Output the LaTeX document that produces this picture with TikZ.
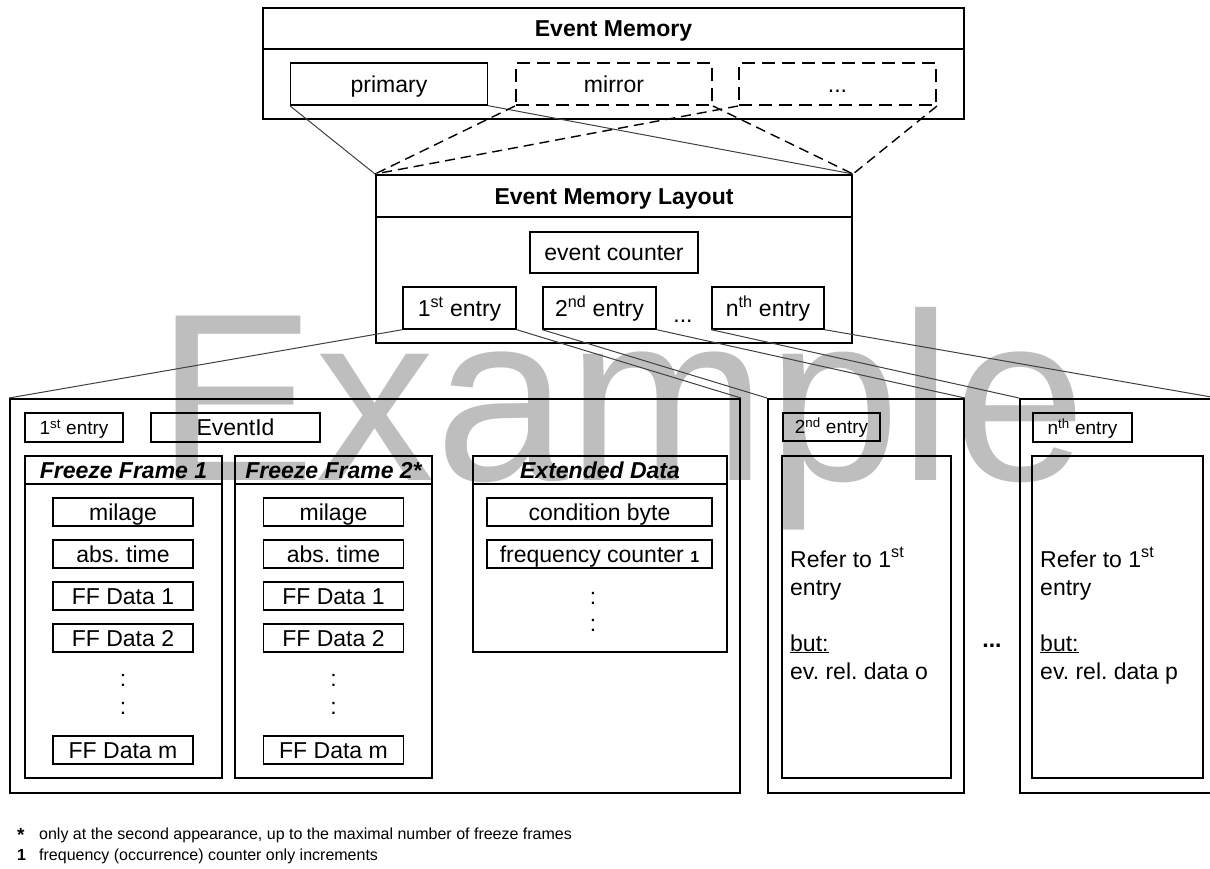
\documentclass[tikz,border=0pt]{standalone}
\usepackage{fontspec}
\setmainfont{Liberation Sans}
\frenchspacing
\definecolor{wmgray}{RGB}{190,190,190}
\tikzset{
  wmk/.style={anchor=base west, inner sep=0pt, text=wmgray, font=\fontsize{239}{239}\selectfont},
  cbox/.style={draw, line width=2pt, inner sep=0pt},
  ibox/.style={draw, line width=1.4pt, inner sep=0pt, font=\fontsize{23}{27}\selectfont, text height=16.5pt, text depth=0pt},
  dashbox/.style={ibox, line width=2pt, dash pattern=on 13pt off 7pt},
  tbox/.style={cbox, font=\bfseries\fontsize{23}{27}\selectfont, text height=16.5pt, text depth=0pt},
  tboxi/.style={cbox, font=\bfseries\itshape\fontsize{23}{27}\selectfont, text height=16.5pt, text depth=0pt},
  sbox/.style={ibox, font=\fontsize{19}{22}\selectfont, text height=13.6pt},
  lconn/.style={line width=1pt, draw=black!75},
  dlconn/.style={line width=1.4pt, dash pattern=on 10pt off 6pt},
  ltext/.style={anchor=base west, inner sep=0pt, font=\fontsize{23}{27}\selectfont},
  fnote/.style={anchor=base west, inner sep=0pt, font=\fontsize{16}{19}\selectfont},
}
\begin{document}
\begin{tikzpicture}[x=1pt,y=-1pt]
\useasboundingbox (0,0) rectangle (1210,869);
% watermark
\node[wmk] (wm) at (156,480) {Example};

% Event Memory
\node[tbox, minimum width=701pt, minimum height=41pt] (emT) at (613.5,28.5) {Event Memory};
\node[cbox, minimum width=701pt, minimum height=70pt] (emB) at (613.5,84) {};
\node[ibox, minimum width=197pt, minimum height=42pt] (prim) at (389,84) {primary};
\node[dashbox, minimum width=196pt, minimum height=42pt] (mirr) at (614,84) {mirror};
\node[dashbox, minimum width=197pt, minimum height=42pt] (more) at (837.5,84) {...};

% Event Memory Layout
\node[tbox, minimum width=476pt, minimum height=42pt] (lT) at (614,196) {Event Memory Layout};
\node[cbox, minimum width=476pt, minimum height=126pt] (lB) at (614,280) {};
\node[ibox, minimum width=168pt, minimum height=41pt] (cnt) at (614,252.5) {event counter};
\node[ibox, minimum width=113pt, minimum height=42pt] (e1) at (459.5,308) {1\textsuperscript{st} entry};
\node[ibox, minimum width=113pt, minimum height=42pt] (e2) at (599.5,308) {2\textsuperscript{nd} entry};
\node[ibox, minimum width=112pt, minimum height=42pt] (en) at (768,308) {n\textsuperscript{th} entry};
\node[ltext, anchor=base] (ldots) at (683,322) {...};

% top connectors
\draw[lconn] (prim.south west) -- (lT.north west);
\draw[lconn] (prim.south east) -- (lT.north east);
\draw[dlconn] (mirr.south west) -- (lT.north west);
\draw[dlconn] (mirr.south east) -- (lT.north east);
\draw[dlconn] (more.south west) -- (lT.north west);
\draw[dlconn] (more.south east) -- (lT.north east);

% 1st entry box
\node[cbox, minimum width=730pt, minimum height=394pt] (b1) at (375,596) {};
\node[sbox, minimum width=98pt, minimum height=29pt] (b1lab) at (74,427.5) {1\textsuperscript{st} entry};
\node[ibox, minimum width=169pt, minimum height=29pt] (eid) at (235.5,427.5) {EventId};

% Freeze Frame 1
\node[tboxi, minimum width=197pt, minimum height=28pt] (f1T) at (123.5,470) {Freeze Frame 1};
\node[cbox, minimum width=197pt, minimum height=294pt] (f1B) at (123.5,631) {};
\foreach \n/\y/\t in {a/512/milage, b/554/abs. time, c/596/FF Data 1, d/638/FF Data 2, m/750/FF Data m}
  \node[ibox, minimum width=140pt, minimum height=28pt] (f1\n) at (123,\y) {\t};
\node[ltext, anchor=base] (f1c1) at (123,686) {:};
\node[ltext, anchor=base] (f1c2) at (123,714) {:};

% Freeze Frame 2
\node[tboxi, minimum width=197pt, minimum height=28pt] (f2T) at (333.5,470) {Freeze Frame 2*};
\node[cbox, minimum width=197pt, minimum height=294pt] (f2B) at (333.5,631) {};
\foreach \n/\y/\t in {a/512/milage, b/554/abs. time, c/596/FF Data 1, d/638/FF Data 2, m/750/FF Data m}
  \node[ibox, minimum width=140pt, minimum height=28pt] (f2\n) at (333.5,\y) {\t};
\node[ltext, anchor=base] (f2c1) at (333.5,686) {:};
\node[ltext, anchor=base] (f2c2) at (333.5,714) {:};

% Extended Data
\node[tboxi, minimum width=254pt, minimum height=28pt] (exT) at (600,470) {Extended Data};
\node[cbox, minimum width=254pt, minimum height=168pt] (exB) at (600,568) {};
\node[ibox, minimum width=225pt, minimum height=28pt] (cond) at (599.5,512) {condition byte};
\node[ibox, minimum width=225pt, minimum height=28pt] (freq) at (599.5,554) {frequency counter {\bfseries\fontsize{16}{16}\selectfont 1}};
\node[ltext, anchor=base] (exc1) at (593,604) {:};
\node[ltext, anchor=base] (exc2) at (593,631) {:};

% 2nd entry box
\node[cbox, minimum width=196pt, minimum height=394pt] (b2) at (866,596) {};
\node[sbox, minimum width=97pt, minimum height=28pt] (b2lab) at (831.5,427) {2\textsuperscript{nd} entry};
\node[cbox, minimum width=169pt, minimum height=322pt] (b2in) at (866.5,617) {};
\node[ltext] (b2t1) at (790,567) {Refer to 1\textsuperscript{st}};
\node[ltext] (b2t2) at (790,595) {entry};
\node[ltext] (b2t3) at (790,651) {\underline{but:}};
\node[ltext] (b2t4) at (790,679) {ev. rel. data o};

\node[ltext, anchor=base, font=\bfseries\fontsize{23}{27}\selectfont] (bdots) at (992,647) {...};

% n-th entry box
\node[cbox, minimum width=196pt, minimum height=394pt] (bn) at (1118,596) {};
\node[sbox, minimum width=99pt, minimum height=29pt] (bnlab) at (1082.5,427.5) {n\textsuperscript{th} entry};
\node[cbox, minimum width=171pt, minimum height=322pt] (bnin) at (1117.5,617) {};
\node[ltext] (bnt1) at (1040,567) {Refer to 1\textsuperscript{st}};
\node[ltext] (bnt2) at (1040,595) {entry};
\node[ltext] (bnt3) at (1040,651) {\underline{but:}};
\node[ltext] (bnt4) at (1040,679) {ev. rel. data p};

% bottom connectors
\draw[lconn] (e1.south west) -- (b1.north west);
\draw[lconn] (e1.south east) -- (b1.north east);
\draw[lconn] (e2.south west) -- (b2.north west);
\draw[lconn] (e2.south east) -- (b2.north east);
\draw[lconn] (en.south west) -- (bn.north west);
\draw[lconn] (en.south east) -- (bn.north east);

% footnotes
\node[fnote, font=\bfseries\fontsize{19}{19}\selectfont] (s1) at (17,841) {*};
\node[fnote] (t1) at (39,839) {only at the second appearance, up to the maximal number of freeze frames};
\node[fnote, font=\bfseries\fontsize{16}{19}\selectfont] (s2) at (17,860) {1};
\node[fnote] (t2) at (39,860) {frequency (occurrence) counter only increments};
\end{tikzpicture}
\end{document}
